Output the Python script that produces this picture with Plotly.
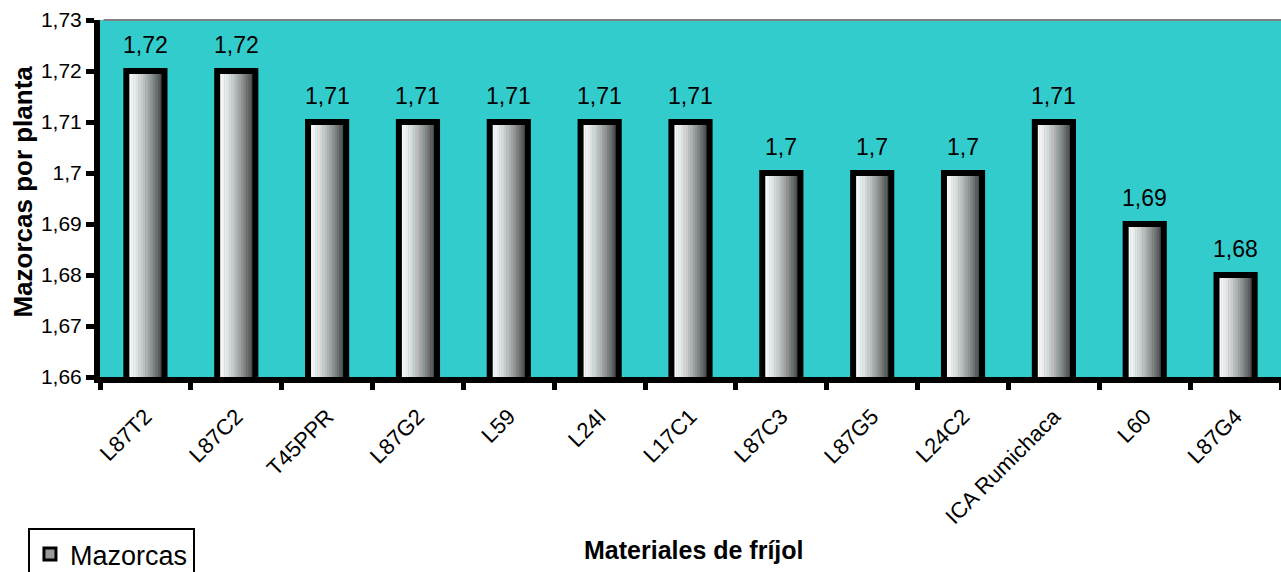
import plotly.graph_objects as go

# Materiales de fríjol y número medio de mazorcas por planta
materiales = ["L87T2", "L87C2", "T45PPR", "L87G2", "L59", "L24I", "L17C1",
              "L87C3", "L87G5", "L24C2", "ICA Rumichaca", "L60", "L87G4"]
mazorcas = [1.72, 1.72, 1.71, 1.71, 1.71, 1.71, 1.71,
            1.70, 1.70, 1.70, 1.71, 1.69, 1.68]

y_ticks = [1.66, 1.67, 1.68, 1.69, 1.70, 1.71, 1.72, 1.73]

FONT = "Liberation Sans, Arial, sans-serif"
BAR_W = 0.42
N_STRIPS = 16

fig = go.Figure()

# Horizontal shading of each column, built from narrow side-by-side strips
for i in range(N_STRIPS):
    t = i / (N_STRIPS - 1)
    g = int(round(252 - (252 - 55) * t ** 1.5))
    strip_w = BAR_W / N_STRIPS
    fig.add_trace(go.Bar(
        x=materiales, y=mazorcas,
        width=strip_w * (1.1 if i < N_STRIPS - 1 else 1.0),
        offset=-BAR_W / 2 + i * strip_w,
        marker=dict(color=f"rgb({g},{g},{g})", line=dict(width=0)),
        showlegend=False, hoverinfo="skip",
    ))

# Black column outlines
fig.add_trace(go.Bar(
    x=materiales, y=mazorcas, width=BAR_W,
    marker=dict(color="rgba(0,0,0,0)", line=dict(color="black", width=6)),
    showlegend=False, name="Mazorcas",
))

# Legend entry
fig.add_trace(go.Bar(
    x=[materiales[0]], y=[0], name="Mazorcas",
    marker=dict(color="#9a9a9a", line=dict(color="black", width=3)),
    hoverinfo="skip",
))

# Value labels above the columns
value_labels = [
    dict(x=m, y=v, xref="x", yref="y", text=f"{v:g}".replace(".", ","),
         showarrow=False, yanchor="bottom", yshift=11,
         font=dict(size=23, color="black", family=FONT))
    for m, v in zip(materiales, mazorcas)
]

fig.update_layout(
    width=1281, height=572,
    margin=dict(l=100, r=0, t=20, b=195, autoexpand=False),
    barmode="overlay",
    separators=",.",
    paper_bgcolor="white",
    plot_bgcolor="#33CCCC",
    font=dict(family=FONT, color="black"),
    showlegend=True,
    legend=dict(
        x=-0.061, y=-0.423, xanchor="left", yanchor="top",
        bordercolor="black", borderwidth=2, bgcolor="white",
        font=dict(size=27, family=FONT),
        itemwidth=30,
    ),
    xaxis=dict(
        type="category", tickson="boundaries",
        ticks="outside", ticklen=7, tickwidth=5, tickcolor="black",
        tickangle=-45, tickfont=dict(size=22, family=FONT),
        ticklabelstandoff=12, automargin=False,
        showline=True, linecolor="black", linewidth=6,
        showgrid=False, zeroline=False,
    ),
    yaxis=dict(
        range=[1.66, 1.73], tickvals=y_ticks,
        ticks="outside", ticklen=8, tickwidth=5, tickcolor="black",
        tickfont=dict(size=21, family=FONT), automargin=False,
        showline=True, linecolor="black", linewidth=6,
        showgrid=False, zeroline=False,
    ),
    shapes=[dict(type="line", xref="paper", yref="paper",
                 x0=0.003, x1=1, y0=1, y1=1,
                 line=dict(color="#808080", width=2))],
    annotations=value_labels + [
        dict(text="<b>Materiales de fríjol</b>", xref="paper", yref="paper",
             x=0.503, y=-0.485, xanchor="center", yanchor="middle",
             showarrow=False, font=dict(size=25, family=FONT)),
        dict(text="<b>Mazorcas por planta</b>", xref="paper", yref="paper",
             x=-0.065, y=0.52, xanchor="center", yanchor="middle",
             textangle=-90, showarrow=False, font=dict(size=26, family=FONT)),
    ],
)

fig.write_html("out.html")
